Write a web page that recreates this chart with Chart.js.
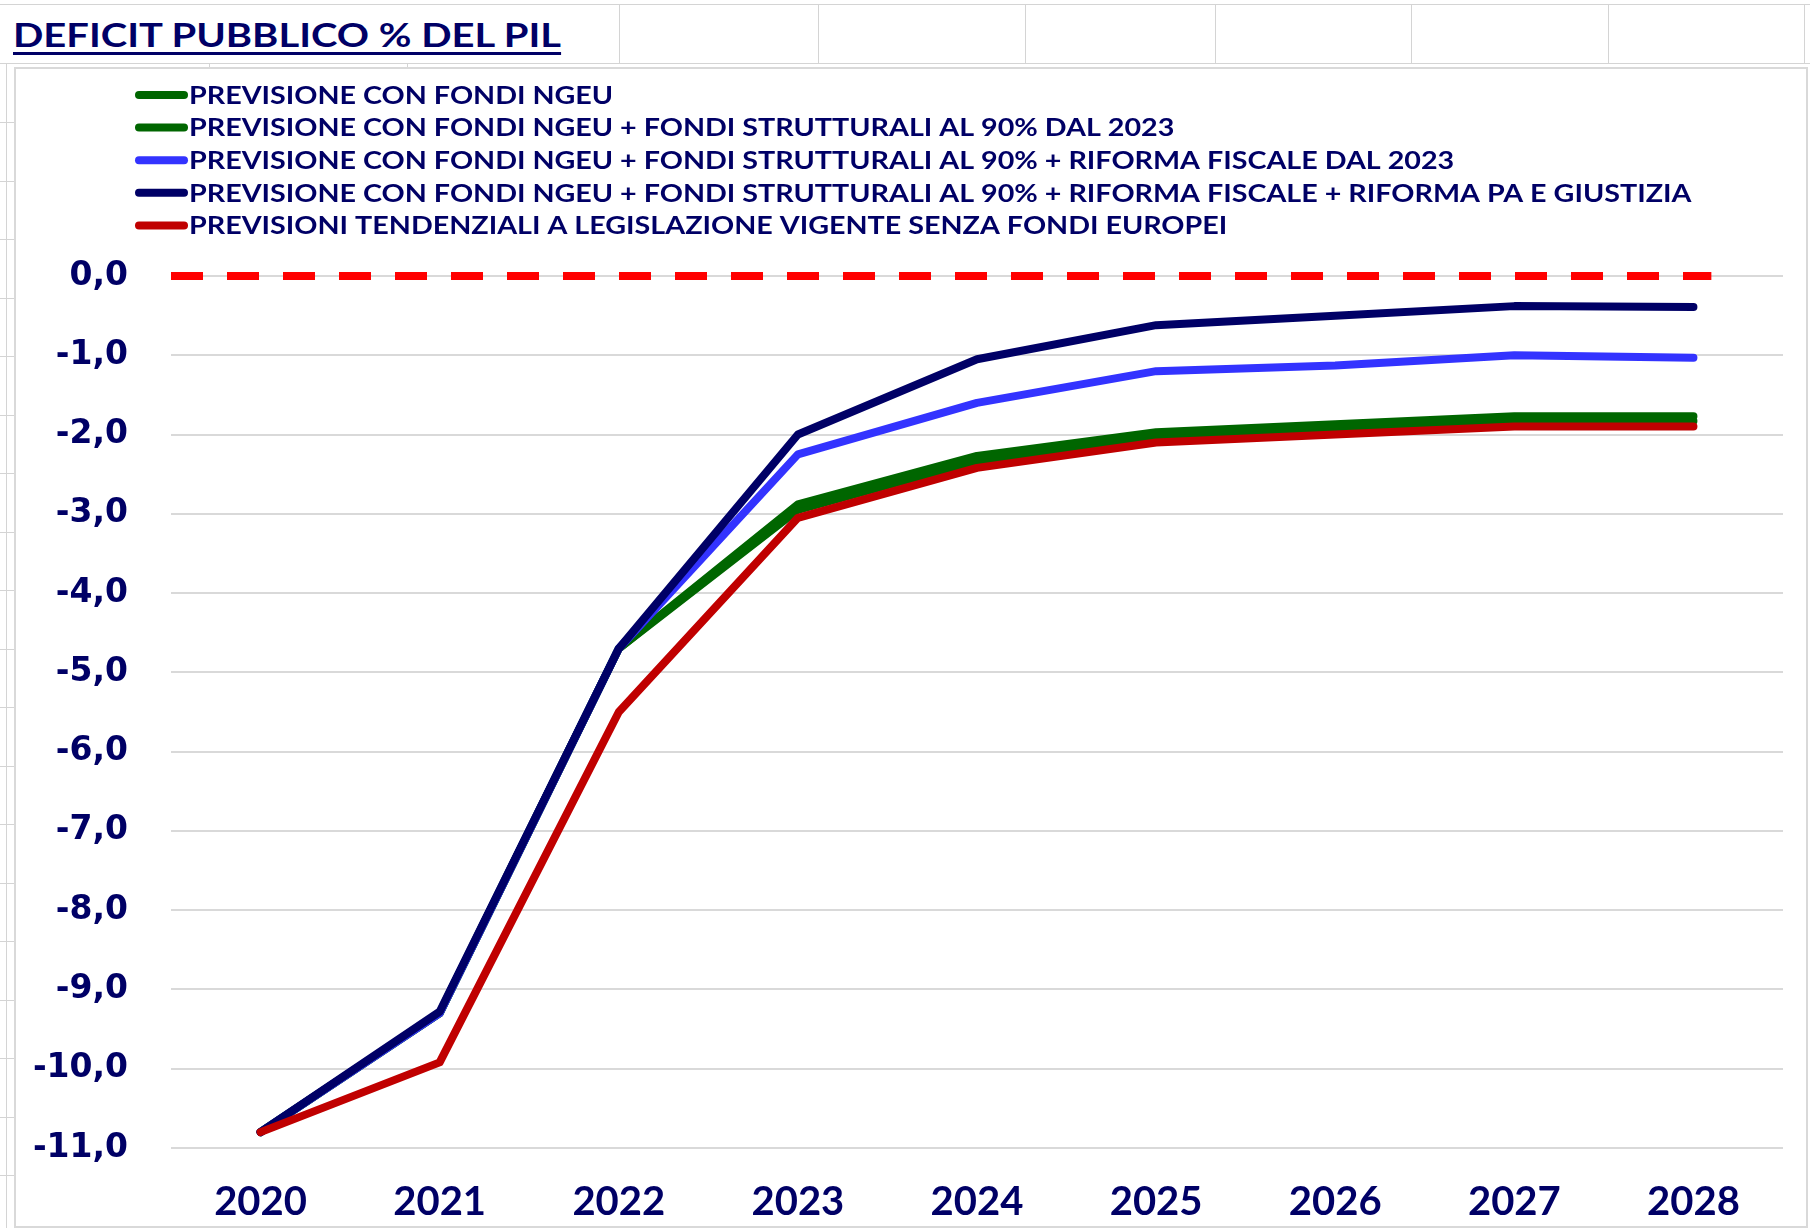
<!DOCTYPE html>
<html>
<head>
<meta charset="utf-8">
<script src="https://cdn.jsdelivr.net/npm/chart.js@4.4.1/dist/chart.umd.min.js"></script>
<style>
  body { margin: 0; width: 1810px; height: 1228px; background: #fff; overflow: hidden; position: relative; }
  .vl { position: absolute; width: 1px; background: #d4d4d4; }
  .hl { position: absolute; height: 1px; background: #d4d4d4; }
  #title {
    position: absolute; left: 13px; top: 14px;
    font: bold 33px Lato, sans-serif; color: #000066;
    text-decoration: underline; text-decoration-thickness: 3px; text-underline-offset: 5px;
    white-space: nowrap; transform: scaleX(1.21); transform-origin: 0 0;
  }
  #box {
    position: absolute; left: 14px; top: 67px; width: 1790px; height: 1157px;
    border: 2px solid #d9d9d9; background: #fff;
  }
</style>
</head>
<body>
<div id="cells"></div>
<div id="title">DEFICIT PUBBLICO % DEL PIL</div>
<div id="box"><canvas id="c" width="1790" height="1157"></canvas></div>
<script>
// data
const years = ['2020', '2021', '2022', '2023', '2024', '2025', '2026', '2027', '2028'];
const ngeu        = [-10.8, -9.3, -4.7, -2.95, -2.33, -2.03, -1.93, -1.83, -1.83];
const ngeuStrutt  = [-10.8, -9.3, -4.7, -2.88, -2.27, -1.97, -1.87, -1.77, -1.77];
const ngeuFiscale = [-10.8, -9.3, -4.7, -2.25, -1.6, -1.2, -1.13, -1.0, -1.03];
const ngeuPaGiust = [-10.8, -9.28, -4.7, -2.0, -1.05, -0.62, -0.5, -0.38, -0.39];
const tendenziali = [-10.8, -9.92, -5.5, -3.05, -2.42, -2.1, -2.0, -1.9, -1.9];
const zeroLineX = [0, 8.6];

const labels = [
  'PREVISIONE CON FONDI NGEU',
  'PREVISIONE CON FONDI NGEU + FONDI STRUTTURALI AL 90% DAL 2023',
  'PREVISIONE CON FONDI NGEU + FONDI STRUTTURALI AL 90% + RIFORMA FISCALE DAL 2023',
  'PREVISIONE CON FONDI NGEU + FONDI STRUTTURALI AL 90% + RIFORMA FISCALE + RIFORMA PA E GIUSTIZIA',
  'PREVISIONI TENDENZIALI A LEGISLAZIONE VIGENTE SENZA FONDI EUROPEI'
];
const colors = ['#006600', '#006600', '#3333ff', '#000066', '#c00000'];
const series = [ngeu, ngeuStrutt, ngeuFiscale, ngeuPaGiust, tendenziali];

// spreadsheet cell lines behind the chart
const cells = document.getElementById('cells');
function line(cls, css) {
  const d = document.createElement('div');
  d.className = cls;
  Object.assign(d.style, css);
  cells.appendChild(d);
}
line('hl', { left: '0px', top: '4px', width: '1810px' });
line('hl', { left: '0px', top: '63px', width: '1810px' });
[619, 818, 1025, 1215, 1411, 1608, 1804].forEach(x => line('vl', { left: x + 'px', top: '4px', height: '60px' }));
[209, 407].forEach(x => line('vl', { left: x + 'px', top: '63px', height: '6px' }));
line('vl', { left: '6px', top: '63px', height: '1165px' });
for (let y = 122; y < 1228; y += 58.5) line('hl', { left: '0px', top: Math.round(y) + 'px', width: '14px' });

const datasets = series.map((d, i) => ({
  label: labels[i],
  data: d,
  borderColor: colors[i],
  backgroundColor: colors[i],
  borderWidth: 8,
  pointRadius: 0,
  borderCapStyle: 'round',
  borderJoinStyle: 'round',
  tension: 0,
  clip: false,
  order: series.length - i
}));
datasets.push({
  label: 'zero',
  data: zeroLineX.map(x => ({ x: x, y: 0 })),
  xAxisID: 'x2',
  borderColor: '#ff0000',
  borderWidth: 8,
  borderDash: [32, 24],
  pointRadius: 0,
  clip: false,
  order: 10
});

const legendPlugin = {
  id: 'sideLegend',
  afterDraw(chart) {
    const ctx = chart.ctx;
    ctx.save();
    ctx.font = 'bold 24px Lato, sans-serif';
    ctx.textBaseline = 'middle';
    labels.forEach((t, i) => {
      const y = 26 + i * 32.6;
      ctx.strokeStyle = colors[i];
      ctx.lineWidth = 8;
      ctx.lineCap = 'round';
      ctx.beginPath();
      ctx.moveTo(123, y);
      ctx.lineTo(168, y);
      ctx.stroke();
      ctx.save();
      ctx.translate(173, y + 1);
      ctx.scale(1.195, 1);
      ctx.fillStyle = '#000066';
      ctx.fillText(t, 0, 0);
      ctx.restore();
    });
    ctx.restore();
  }
};

new Chart(document.getElementById('c'), {
  type: 'line',
  data: { labels: years, datasets: datasets },
  options: {
    responsive: false,
    animation: false,
    devicePixelRatio: 1,
    layout: { padding: { top: 207, right: 23, left: 0, bottom: 0 } },
    plugins: { legend: { display: false }, tooltip: { enabled: false } },
    scales: {
      x: {
        offset: true,
        grid: { display: false, drawTicks: false },
        border: { display: false },
        ticks: { color: '#000066', font: { family: 'Lato', weight: 'bold', size: 40 }, padding: 30 },
        afterFit(s) { s.height = 78; }
      },
      x2: { type: 'linear', display: false, min: 0, max: 9 },
      y: {
        min: -11,
        max: 0,
        ticks: {
          stepSize: 1,
          color: '#000066',
          font: { family: 'DejaVu Sans', weight: 'bold', size: 33 },
          padding: 43,
          callback: v => v.toFixed(1).replace('.', ',')
        },
        grid: { color: '#d9d9d9', lineWidth: 2, drawTicks: false },
        border: { display: false },
        afterFit(s) { s.width = 155; }
      }
    }
  },
  plugins: [legendPlugin]
});
</script>
</body>
</html>
